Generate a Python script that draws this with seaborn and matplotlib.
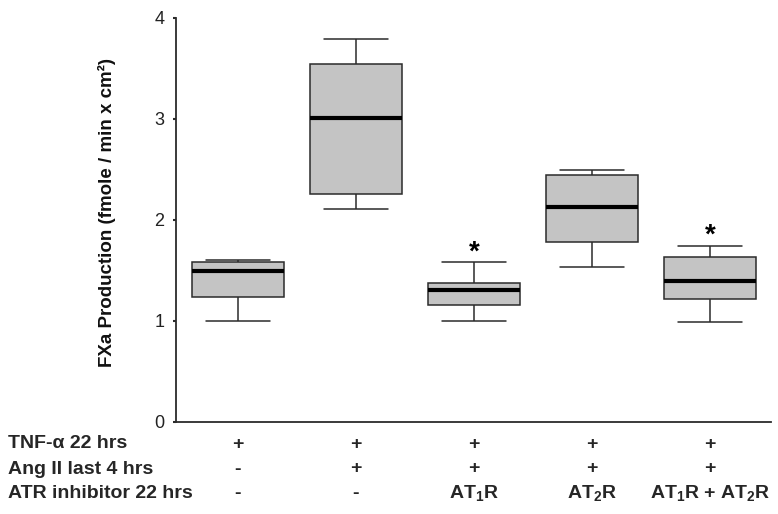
import numpy as np
import pandas as pd
import matplotlib
matplotlib.use("Agg")
import matplotlib.pyplot as plt
import seaborn as sns

# ---- data ----
groups = ["G1", "G2", "G3", "G4", "G5"]
whisker_low = [1.00, 2.11, 1.00, 1.53, 0.99]
q1 = [1.24, 2.26, 1.155, 1.78, 1.215]
median = [1.49, 3.01, 1.30, 2.13, 1.39]
q3 = [1.58, 3.54, 1.37, 2.44, 1.63]
whisker_high = [1.60, 3.79, 1.58, 2.49, 1.745]
significant = [False, False, True, False, True]

row_labels = ["TNF-α 22 hrs", "Ang II last 4 hrs", "ATR inhibitor 22 hrs"]
row_tnf = ["+", "+", "+", "+", "+"]
row_angii = ["-", "+", "+", "+", "+"]
row_atr = ["-", "-", r"AT$_\mathbf{1}$R", r"AT$_\mathbf{2}$R", r"AT$_\mathbf{1}$R + AT$_\mathbf{2}$R"]
y_ticks = [0, 1, 2, 3, 4]
y_label = "FXa Production (fmole / min x cm²)"

# five-number rows per group -> quartiles reproduce exactly with linear percentiles
records = []
for g, a, b, c, d, e in zip(groups, whisker_low, q1, median, q3, whisker_high):
    for v in (a, b, c, d, e):
        records.append({"group": g, "value": v})
df = pd.DataFrame(records)

sns.set_style("ticks")
plt.rcParams["font.family"] = ["Liberation Sans", "DejaVu Sans"]
plt.rcParams["mathtext.fontset"] = "custom"
plt.rcParams["mathtext.rm"] = "Liberation Sans"
plt.rcParams["mathtext.bf"] = "Liberation Sans:bold"

fig = plt.figure(figsize=(7.78, 5.14), dpi=100)
ax = fig.add_axes([176 / 778, 1 - 421.7 / 514, (771 - 176) / 778, (421.7 - 18) / 514])

edge = "#2b2b2b"
sns.boxplot(
    data=df, x="group", y="value", order=groups, ax=ax,
    whis=(0, 100), width=0.78, color="#c4c4c4", saturation=1,
    linecolor=edge, linewidth=1.1,
    medianprops={"color": "black", "linewidth": 3.0},
    capwidths=0.54,
)

ax.set_xlim(-0.525, 4.517)
ax.set_ylim(0, 4)
ax.set_yticks(y_ticks)
ax.set_yticklabels([str(t) for t in y_ticks], fontsize=13, color="#222222")
ax.tick_params(axis="y", length=2.5, width=1.5, color=edge, pad=6)
ax.tick_params(axis="x", length=0, labelbottom=False)
ax.set_xlabel("")
ax.set_ylabel(y_label, fontsize=13.5, fontweight="bold", color="#111111")
ax.yaxis.set_label_coords(-0.101, 0.518)
for s in ("top", "right"):
    ax.spines[s].set_visible(False)
for s in ("left", "bottom"):
    ax.spines[s].set_color(edge)
    ax.spines[s].set_linewidth(1.3)

# significance stars
for i, (sig, hi) in enumerate(zip(significant, whisker_high)):
    if sig:
        ax.text(i, hi - 0.035, "*", ha="center", va="bottom", fontsize=20,
                fontweight="bold", color="black")

# treatment table below the axis
trans = matplotlib.transforms.blended_transform_factory(ax.transData, fig.transFigure)
row_y = [1 - 444 / 514, 1 - 469 / 514, 1 - 494 / 514]
for ry, lab, row in zip(row_y, row_labels, [row_tnf, row_angii, row_atr]):
    fig.text(8 / 778, ry, lab, ha="left", va="center", fontsize=14,
             fontweight="bold")
    for i, cell in enumerate(row):
        ax.text(i, ry, cell, transform=trans, ha="center", va="center",
                fontsize=14, fontweight="bold")

fig.savefig("out.png", dpi=100)
